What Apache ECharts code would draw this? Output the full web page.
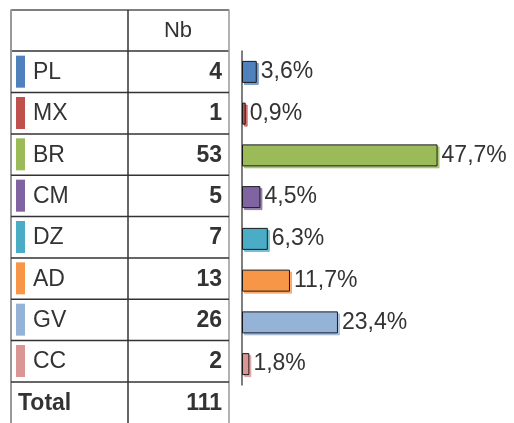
<!DOCTYPE html>
<html><head><meta charset="utf-8">
<script src="https://cdn.jsdelivr.net/npm/echarts@6/dist/echarts.min.js"></script>
<style>html,body{margin:0;padding:0;background:#fff}#c{width:514px;height:423px}</style>
</head><body><div id="c"></div>
<script>
const categories = ['PL','MX','BR','CM','DZ','AD','GV','CC'];
const counts = [4,1,53,5,7,13,26,2];
const totalLabel = 'Total';
const totalCount = 111;
const percents = [3.6,0.9,47.7,4.5,6.3,11.7,23.4,1.8];
const colors = ['#4F81BD','#C0504D','#9BBB59','#8064A2','#4BACC6','#F79646','#95B3D7','#D99694'];
const headerLabel = 'Nb';

const rowH = 41.75, gridTop = 51;
const tableNames = categories.concat([totalLabel]);
const tableVals = counts.concat([totalCount]);
const font = 'Liberation Sans, Arial, sans-serif';
const txt = '#333333';
const fs = 23;

const chart = echarts.init(document.getElementById('c'), null, {renderer:'canvas'});
chart.setOption({
  animation:false,
  grid:[
    {left:242, top:gridTop, width:246, height:rowH*8, containLabel:false},
    {left:11, top:gridTop, width:218, height:rowH*9, containLabel:false}
  ],
  xAxis:[
    {gridIndex:0, type:'value', min:0, max:60, show:false},
    {gridIndex:1, type:'value', min:0, max:1, show:false}
  ],
  yAxis:[
    {gridIndex:0, type:'category', data:categories, inverse:true,
     axisLine:{show:true, lineStyle:{color:'#555', width:1.5}}, axisTick:{show:false}, axisLabel:{show:false}},
    {gridIndex:1, type:'category', data:tableNames, inverse:true,
     axisLine:{show:false}, axisTick:{show:false}, axisLabel:{show:false}, splitLine:{show:false}}
  ],
  series:[
    {type:'bar', xAxisIndex:0, yAxisIndex:0, barWidth:22,
     data: percents.map((v,i)=>({value:v, itemStyle:{color:colors[i], shadowColor:colors[i]+'bb'}})),
     itemStyle:{borderColor:'#1a1a1a', borderWidth:1, shadowOffsetX:2, shadowOffsetY:2, shadowBlur:0},
     label:{show:true, position:'right', distance:4, color:txt, fontFamily:font, fontSize:fs,
       formatter:p=>p.value.toFixed(1).replace('.',',')+'%'}
    },
    {type:'custom', xAxisIndex:1, yAxisIndex:1, data: tableNames.map((n,i)=>[0,i]),
     renderItem:function(params, api){
       const i = api.value(1);
       const c = api.coord([0,i]);
       const cy = c[1];
       const cs = params.coordSys;
       const isTotal = i === categories.length;
       const children = [];
       if(!isTotal){
         children.push({type:'rect', shape:{x:cs.x+5, y:cy-16, width:9, height:32}, style:{fill:colors[i]}});
       }
       children.push({type:'text', style:{x: isTotal? cs.x+7 : cs.x+22, y:cy+1, text:tableNames[i], fill:txt,
         font:(isTotal?'bold ':'')+fs+'px '+font, verticalAlign:'middle', align:'left'}});
       children.push({type:'text', style:{x:cs.x+cs.width-7, y:cy+1, text:String(tableVals[i]), fill:txt,
         font:'bold '+fs+'px '+font, verticalAlign:'middle', align:'right'}});
       if(!isTotal){
         children.push({type:'line', shape:{x1:cs.x, y1:cy+rowH/2, x2:cs.x+cs.width, y2:cy+rowH/2}, style:{stroke:'#333', lineWidth:1.5}});
       }
       return {type:'group', children:children};
     }
    }
  ],
  graphic:[
    {type:'line', shape:{x1:11, y1:10, x2:229, y2:10}, style:{stroke:'#555', lineWidth:1.5}},
    {type:'line', shape:{x1:11, y1:gridTop, x2:229, y2:gridTop}, style:{stroke:'#333', lineWidth:1.5}},
    {type:'line', shape:{x1:11, y1:9.5, x2:11, y2:423}, style:{stroke:'#999', lineWidth:2}},
    {type:'line', shape:{x1:229, y1:9.5, x2:229, y2:423}, style:{stroke:'#999', lineWidth:1.5}},
    {type:'line', shape:{x1:128, y1:10, x2:128, y2:423}, style:{stroke:'#333', lineWidth:1.5}},
    {type:'text', style:{x:178, y:31, text:headerLabel, fill:txt, font:'22px '+font, align:'center', verticalAlign:'middle'}}
  ]
});
</script></body></html>
